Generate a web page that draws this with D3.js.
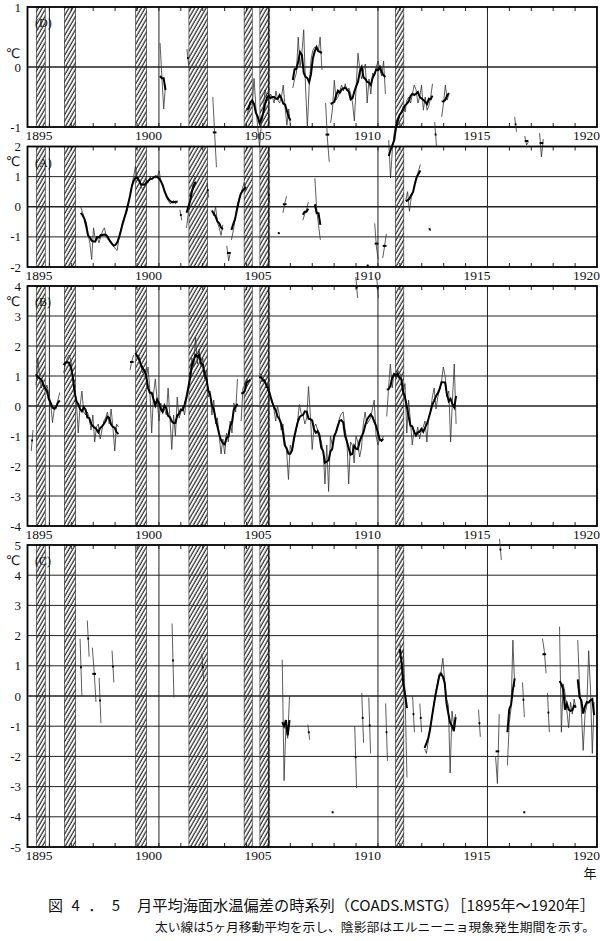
<!DOCTYPE html>
<html>
<head>
<meta charset="utf-8">
<script src="https://cdn.jsdelivr.net/npm/d3@7/dist/d3.min.js"></script>
<style>
body{margin:0;background:#fff;}
text{font-family:"Liberation Serif","DejaVu Serif",serif;fill:#111;}
.jp{font-family:"Noto Sans CJK JP",sans-serif;}
.unit{font-family:"DejaVu Sans",sans-serif;}
</style>
</head>
<body>
<svg id="chart" width="600" height="941"></svg>
<script>
// year labels on the x axis and El Nino periods (shaded)
var yearLabels = [1895, 1900, 1905, 1910, 1915, 1920];
var ninoBands = [[1894.40,1894.81],[1895.68,1896.20],[1898.94,1899.44],[1901.37,1902.22],
                 [1903.89,1904.26],[1904.61,1905.06],[1910.80,1911.18]];

// monthly SST anomaly pieces: start = decimal year of first month, v = monthly values
var seriesD = [
  {start:1900.05, v:[0.4,-0.15,-0.7,-0.3]},
  {start:1901.28, v:[0.3,0.0]},
  {start:1902.46, v:[-0.5,-1.1,-1.67]},
  {start:1904.01, v:[-0.83,-0.7,-0.6,-0.63,-0.19,-0.67,-1.0,-1.33,-0.95,-0.72,-0.38,-0.5,-0.55,-0.45,-0.5,-0.6,-0.4,-0.55,-0.6,-0.5,-0.3,-0.67,-0.97,-0.7,-1.0]},
  {start:1906.11, v:[-0.35,-0.2,-0.1,0.5,0.0,0.23,0.62,-0.33,-1.0,-0.33,0.12,0.28,0.33,0.3,0.25,0.5,-0.05]},
  {start:1907.61, v:[-0.6,-1.2,-1.58]},
  {start:1907.84, v:[-0.93,-0.7,-0.22,-0.55,-0.5,-0.4,-0.3,-0.4,-0.28,-0.4,-0.35,-0.45,-0.6,-0.9,-0.3,0.23,-0.05,-0.2,-0.05,0.05,-0.6,-0.2,-0.45,-0.1,-0.15,0.0,0.1,-0.05,-0.15,0.1,-0.45]},
  {start:1910.49, v:[-1.22,-1.85,-1.38,-1.1,-0.95,-0.85,-0.8,-0.75,-0.65,-0.75,-0.55,-0.5,-0.6,-0.45,-0.3,-0.38,-0.6,-0.5,-0.3,-0.72,-0.5,-0.72,-0.65,-0.5,-0.28]},
  {start:1912.59, v:[-0.92,-1.33]},
  {start:1912.91, v:[-0.83,-0.6,-0.3,-0.55,-0.45]},
  {start:1916.24, v:[-0.83,-1.08]},
  {start:1916.70, v:[-1.15,-1.3,-1.25]},
  {start:1917.38, v:[-1.1,-1.5,-1.2]}
];

var seriesA = [
  {start:1896.43, v:[0.0,-0.2,-0.4,-0.5,-0.9,-1.2,-1.75,-0.7,-1.1,-1.0,-1.2,-1.0,-0.8,-0.7,-1.0,-1.1,-1.1,-1.2,-1.3,-1.4,-1.45,-1.0,-0.75,-0.5,-0.3,-0.25,0.0,0.35,0.7,1.0,1.35,0.9,0.85,0.7,0.55,0.7,0.9,0.8,1.0,0.9,1.0,0.95,1.0,1.2,0.8,0.7,0.5,0.3,0.2,0.1,0.15,0.2,0.1,0.2]},
  {start:1900.96, v:[-0.1,-0.45]},
  {start:1901.26, v:[-0.7,-0.2,0.3,0.6,0.9,1.0]},
  {start:1902.19, v:[0.8,0.3]},
  {start:1902.42, v:[-0.1,-0.3,0.0,-0.5,-0.7,-0.95,-0.6]},
  {start:1903.10, v:[-1.3,-1.8,-1.5]},
  {start:1903.31, v:[-1.1,-0.8,-0.4,0.0,0.25,0.4,0.6,0.8,0.55]},
  {start:1904.97, v:[0.65,0.15]},
  {start:1905.43, v:[-0.85,-0.9]},
  {start:1905.66, v:[-0.2,0.1,0.35]},
  {start:1906.57, v:[-0.45,-0.25,-0.1,0.15]},
  {start:1907.12, v:[0.95,-0.1,-0.6,-1.1]},
  {start:1909.49, v:[-1.95,-1.95]},
  {start:1909.85, v:[-0.55,-1.37,-1.75]},
  {start:1910.22, v:[-1.7,-1.3,-0.9]},
  {start:1911.27, v:[0.2,0.5,-0.15,0.3,0.5,0.8,1.0,1.2,1.4]},
  {start:1912.32, v:[-0.7,-0.8]}
];

var seriesB = [
  {start:1894.17, v:[-1.5,-0.8]},
  {start:1894.39, v:[0.7,1.6,0.9,0.6,0.8,0.5,0.7,0.4,0.1,-0.55,-0.1,-0.1,0.2,0.45]},
  {start:1895.65, v:[1.1,1.4,1.6,1.7,1.5,1.0,0.6,0.1,-0.9,0.0,0.5,-0.2,-0.3,-0.2,-0.4,-0.8,-0.3,-1.2,-0.7,-0.6,-1.1,-0.8,-0.5,-0.4,-0.2,-0.6,-0.1,-0.7,-1.5,-0.6,-0.7]},
  {start:1898.68, v:[1.2,1.5,1.7]},
  {start:1898.92, v:[2.0,1.6,1.7,1.4,1.1,1.2,0.9,1.3,0.5,-0.9,0.4,0.9,0.2,-0.5,0.1,-0.2,-0.1,-0.3,0.6,-0.4,-1.45,-0.3,-1.0,0.3,-0.4,-0.2,0.0,-0.3,0.2,0.5,1.0,1.6,1.3,2.3,1.4,1.9,1.3,1.6,0.9,1.2,0.3,0.5,-0.3,0.2,-0.6,-0.4,-1.0,-1.6,-1.1,-1.6,-0.9,-1.2,-0.5,-0.9,0.1,-0.2,0.9,null,-0.5,0.6,0.7,0.9,0.8,0.9]},
  {start:1904.58, v:[1.1,1.0,0.8,0.9,0.6,0.8,0.3,0.2,-0.1,-0.5,0.0,-0.3,-0.8,-0.6,-1.2,-1.5,-2.45,-1.3,-1.5,-1.2,-0.9,-0.5,0.05,-0.25,-0.3,-0.6,-0.4,0.65,-0.3,-1.45,-0.7,-0.6,-0.8,-0.9,-1.2,-1.5,-2.6,-1.3,-2.85,-1.0,-1.3,-1.1,-0.9,-0.7,-0.4,-0.25,-0.2,-0.8,-1.1,-2.6,-1.2,-1.3,-1.9,-1.0,-1.2,-1.7,-1.4,-0.6,-0.2,-0.6,-0.5,-0.4,-0.1,0.2,-1.0,-1.3,-1.1,-1.2,-1.0]},
  {start:1908.99, v:[4.3,3.6]},
  {start:1909.94, v:[4.3,3.6]},
  {start:1910.40, v:[-0.35,0.6,1.4,0.6,1.1,1.0,1.2,1.1,1.0,0.4,0.75,-0.9,0.2,-0.5,-1.3,-0.8,-1.0,-0.7,-1.1,-0.8,-0.7,-0.5,-1.2,-0.4,-0.2,0.3,0.6,-0.1,0.3,0.55,0.8,1.3,1.0,0.3,0.5,-1.2,0.2,1.4,-0.6]}
];

var seriesC = [
  {start:1896.40, v:[1.9,0.0]},
  {start:1896.73, v:[2.5,1.3]},
  {start:1896.96, v:[1.6,0.8,-0.2]},
  {start:1897.27, v:[0.6,-0.9]},
  {start:1897.86, v:[1.5,0.45]},
  {start:1900.60, v:[2.4,-0.05]},
  {start:1901.96, v:[1.4,0.5]},
  {start:1905.63, v:[1.2,-2.8,-1.0,-1.4,0.0]},
  {start:1906.80, v:[-0.95,-1.45]},
  {start:1907.89, v:[-3.85,-3.85]},
  {start:1908.94, v:[-1.0,-3.05]},
  {start:1909.26, v:[0.1,-1.55]},
  {start:1909.58, v:[-0.05,-1.9]},
  {start:1910.35, v:[-0.25,-2.15]},
  {start:1910.99, v:[1.75,1.4,1.5,0.0,-2.7]},
  {start:1911.58, v:[0.0,-1.2]},
  {start:1911.91, v:[-0.25,-1.2]},
  {start:1912.13, v:[-1.75,-1.9,-1.5,-1.1,-0.7,-0.3,0.1,0.4,0.75,0.8,1.25,0.5,-0.1,-0.3,-2.55,-0.5,-1.0,-0.6]},
  {start:1914.59, v:[-0.45,-1.35]},
  {start:1915.37, v:[-2.0,-2.9,-0.6]},
  {start:1915.55, v:[5.2,4.5]},
  {start:1915.91, v:[-2.3,-0.9,-0.4,1.85,0.3]},
  {start:1916.60, v:[0.45,-0.7]},
  {start:1916.64, v:[-3.85,-3.85]},
  {start:1917.51, v:[1.9,1.5,0.75]},
  {start:1917.74, v:[0.1,-1.2]},
  {start:1918.29, v:[2.3,-1.2,0.4,0.1,-0.5,-1.05,-0.2,-0.6,-0.1,-0.4]},
  {start:1919.12, v:[1.85,0.3,-0.5,-1.8,-0.6,-0.3,1.5,0.2,-1.9,-0.2]}
];

// unitBase = baseline of the degree sign, just under the top tick label
var panels = [
  {name:"(D)", data:seriesD, lo:-1, hi:1, top:7,     bottom:127, unitBase:58},
  {name:"(A)", data:seriesA, lo:-2, hi:2, top:146.5, bottom:267, unitBase:166.3},
  {name:"(B)", data:seriesB, lo:-4, hi:4, top:286,   bottom:526, unitBase:305.8},
  {name:"(C)", data:seriesC, lo:-5, hi:5, top:545,   bottom:847, unitBase:564.6}
];

var svg = d3.select("#chart");
var x = d3.scaleLinear().domain([1894, 1920]).range([27.5, 597]);

// hatch for El Nino periods
var pat = svg.append("defs").append("pattern")
    .attr("id", "hatch")
    .attr("patternUnits", "userSpaceOnUse")
    .attr("width", 3.3).attr("height", 10)
    .attr("patternTransform", "rotate(30)");
pat.append("line").attr("x1", 1).attr("x2", 1).attr("y1", 0).attr("y2", 10)
    .attr("stroke", "#111").attr("stroke-width", 1.1);

// 5-month centred moving average of one piece
function movingAvg5(vals) {
  return vals.map(function(v, i) {
    if (v == null) return null;
    var s = 0, n = 0;
    for (var k = i - 2; k <= i + 2; k++) {
      if (k >= 0 && k < vals.length && vals[k] != null) { s += vals[k]; n++; }
    }
    return s / n;
  });
}

function toPoints(seg, vals) {
  return vals.map(function(v, i) { return {t: seg.start + i / 12, v: v}; });
}

panels.forEach(function(p) {
  var y = d3.scaleLinear().domain([p.lo, p.hi]).range([p.bottom, p.top]);
  var g = svg.append("g");

  g.selectAll(".band").data(ninoBands).enter().append("rect")
    .attr("x", function(d) { return x(d[0]); })
    .attr("width", function(d) { return x(d[1]) - x(d[0]); })
    .attr("y", p.top).attr("height", p.bottom - p.top)
    .attr("fill", "url(#hatch)")
    .attr("stroke", "#222").attr("stroke-width", 0.6);

  // horizontal grid
  g.selectAll(".hg").data(d3.range(p.lo + 1, p.hi)).enter().append("line")
    .attr("x1", x(1894)).attr("x2", x(1920))
    .attr("y1", function(d) { return y(d); }).attr("y2", function(d) { return y(d); })
    .attr("stroke", "#222").attr("stroke-width", function(d) { return d === 0 ? 1.3 : 1; });

  // vertical grid every 5 years
  g.selectAll(".vg").data([1895, 1900, 1905, 1910, 1915]).enter().append("line")
    .attr("x1", function(d) { return x(d); }).attr("x2", function(d) { return x(d); })
    .attr("y1", p.top).attr("y2", p.bottom)
    .attr("stroke", "#222").attr("stroke-width", 1);

  // yearly ticks, inside top and bottom
  var yrs = d3.range(1895, 1920);
  g.selectAll(".tt").data(yrs).enter().append("line")
    .attr("x1", function(d) { return x(d); }).attr("x2", function(d) { return x(d); })
    .attr("y1", p.top).attr("y2", p.top + 4)
    .attr("stroke", "#222").attr("stroke-width", 1);
  g.selectAll(".tb").data(yrs).enter().append("line")
    .attr("x1", function(d) { return x(d); }).attr("x2", function(d) { return x(d); })
    .attr("y1", p.bottom).attr("y2", p.bottom - 4)
    .attr("stroke", "#222").attr("stroke-width", 1);

  // frame
  g.append("rect")
    .attr("x", x(1894)).attr("y", p.top)
    .attr("width", x(1920) - x(1894)).attr("height", p.bottom - p.top)
    .attr("fill", "none").attr("stroke", "#000").attr("stroke-width", 1.8);

  var line = d3.line()
    .defined(function(d) { return d.v != null; })
    .x(function(d) { return x(d.t); })
    .y(function(d) { return y(d.v); });

  p.data.forEach(function(seg) {
    g.append("path").datum(toPoints(seg, seg.v))
      .attr("d", line).attr("fill", "none")
      .attr("stroke", "#333").attr("stroke-width", 0.8);
    g.append("path").datum(toPoints(seg, movingAvg5(seg.v)))
      .attr("d", line).attr("fill", "none")
      .attr("stroke", "#000").attr("stroke-width", 2);
  });

  // y labels
  g.selectAll(".yl").data(d3.range(p.lo, p.hi + 1)).enter().append("text")
    .attr("x", 21).attr("y", function(d) { return y(d); })
    .attr("dy", "0.35em").attr("text-anchor", "end")
    .style("font-size", "13px")
    .text(function(d) { return d < 0 ? "-" + Math.abs(d) : d; });

  g.append("text").attr("class", "unit")
    .attr("x", 13).attr("y", p.unitBase)
    .attr("text-anchor", "middle").style("font-size", "13px")
    .text("℃");

  g.append("text").attr("x", 35).attr("y", p.top + 20)
    .style("font-size", "12px").text(p.name);

  // year labels under the panel
  g.selectAll(".xl").data(yearLabels).enter().append("text")
    .attr("x", function(d) { return x(d) + 3; })
    .attr("y", p.bottom + 13)
    .attr("text-anchor", "end")
    .style("font-size", "13.5px")
    .text(function(d) { return d; });
});

svg.append("text").attr("class", "jp").attr("x", 590).attr("y", 878)
  .attr("text-anchor", "middle").style("font-size", "13px").text("年");

svg.append("text").attr("class", "jp").attr("x", 48).attr("y", 911)
  .style("font-size", "15px").attr("textLength", 72).text("図4．5");
svg.append("text").attr("class", "jp").attr("x", 137).attr("y", 911)
  .style("font-size", "15px").attr("textLength", 458).attr("lengthAdjust", "spacingAndGlyphs")
  .text("月平均海面水温偏差の時系列（COADS.MSTG）［1895年～1920年］");
svg.append("text").attr("class", "jp").attr("x", 155).attr("y", 932)
  .style("font-size", "12.5px").attr("textLength", 440).attr("lengthAdjust", "spacingAndGlyphs")
  .text("太い線は5ヶ月移動平均を示し、陰影部はエルニーニョ現象発生期間を示す。");
</script>
</body>
</html>
